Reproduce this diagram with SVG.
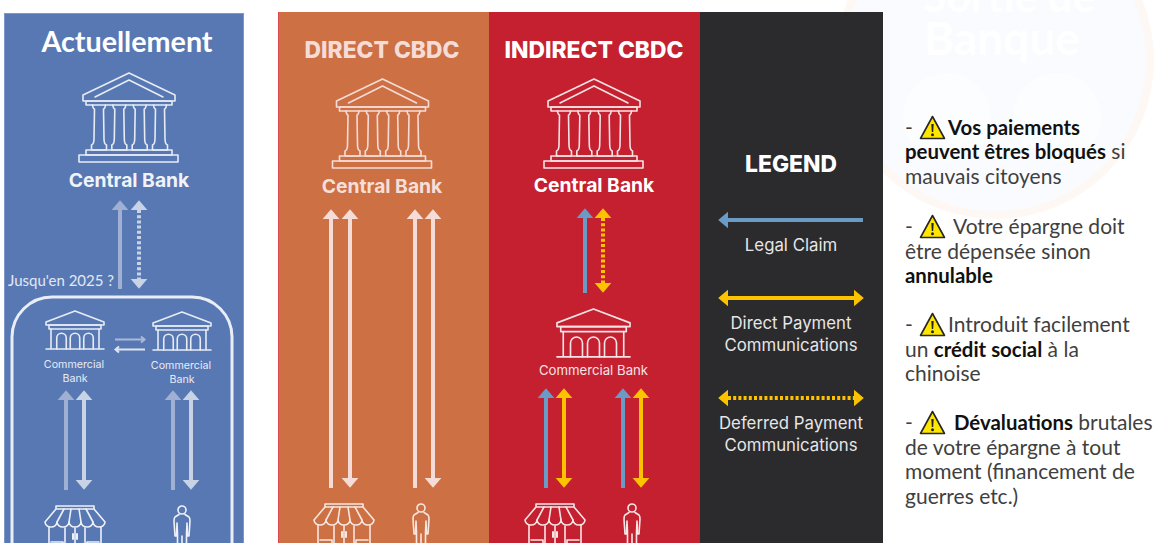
<svg xmlns="http://www.w3.org/2000/svg" xmlns:xlink="http://www.w3.org/1999/xlink" width="1156" height="543" viewBox="0 0 1156 543">
<style>
.ico{fill:none;stroke-width:1.6;stroke-linejoin:round;stroke-linecap:round}
.lab{font-family:Inter,"Liberation Sans",sans-serif;text-anchor:middle}
.b{font-weight:700}
.h{font-weight:800}
.cal{font-family:Lato,"Liberation Sans",sans-serif;font-size:21px;fill:#404040}
.cal tspan.s{font-weight:700;fill:#111;font-size:20.400px}
.ln{fill:none;stroke-width:4}
.dot{stroke-dasharray:3 2.2}
.leg{font-size:16.800px;fill:#e6e6e6}
</style>
<defs>
<marker id="hPale" viewBox="0 -9 10 18" refX="0.2" refY="0" markerWidth="10" markerHeight="18" markerUnits="userSpaceOnUse" orient="auto-start-reverse"><path d="M0,-8.5L10,0L0,8.5Z" fill="#9fb0d2"/></marker>
<marker id="hLite" viewBox="0 -9 10 18" refX="0.2" refY="0" markerWidth="10" markerHeight="18" markerUnits="userSpaceOnUse" orient="auto-start-reverse"><path d="M0,-8.5L10,0L0,8.5Z" fill="#c9d3e6"/></marker>
<marker id="hPeach" viewBox="0 -9 10 18" refX="0.2" refY="0" markerWidth="10" markerHeight="18" markerUnits="userSpaceOnUse" orient="auto-start-reverse"><path d="M0,-8.5L10,0L0,8.5Z" fill="#f5dcd6"/></marker>
<marker id="hBlue" viewBox="0 -9 10 18" refX="0.2" refY="0" markerWidth="10" markerHeight="18" markerUnits="userSpaceOnUse" orient="auto-start-reverse"><path d="M0,-8.5L10,0L0,8.5Z" fill="#6a9bc6"/></marker>
<marker id="hYel" viewBox="0 -9 10 18" refX="0.2" refY="0" markerWidth="10" markerHeight="18" markerUnits="userSpaceOnUse" orient="auto-start-reverse"><path d="M0,-8.5L10,0L0,8.5Z" fill="#fdc300"/></marker>
<g id="central">
<path d="M0,0L46,22V28H-46V22Z"/><path d="M-34,24L0,7L34,24"/><rect x="-43" y="28" width="86" height="4"/>
<g id="col"><path d="M-36.500,32Q-36,36 -34.500,36L-35,66Q-35,71 -37.500,72V77H-22.500V72Q-25,71 -25,66L-25.500,36Q-24,36 -23.500,32"/></g>
<use xlink:href="#col" x="20.300"/><use xlink:href="#col" x="40.700"/><use xlink:href="#col" x="61"/>
<rect x="-43" y="77" width="86" height="5"/><rect x="-50" y="82" width="99" height="7"/>
</g>
<g id="commercial">
<path d="M0,0L29,11V14H-29V11Z"/><path d="M-26,14H26V18H-26Z"/><path d="M-24,18V38M24,18V38M-29,38H29"/>
<path d="M-18.250,38V27a4.750,4.750 0 0 1 9.500,0V38M-4.750,38V27a4.750,4.750 0 0 1 9.500,0V38M8.750,38V27a4.750,4.750 0 0 1 9.500,0V38"/>
</g>
<g id="shop">
<path d="M-19,0H19V3H-19ZM-19,3L-30,16M19,3L30,16M-30,16a6,5 0 0 0 12,0a6,5 0 0 0 12,0a6,5 0 0 0 12,0a6,5 0 0 0 12,0a6,5 0 0 0 12,0"/>
<path d="M-11,3L-18,16M-4,3L-6,16M4,3L6,16M11,3L18,16M-26,21V50M26,21V50M-10,22V50M10,22V50M0,22V50M-24,36H-12V50M24,36H12V50"/>
<path d="M-2,28V33M2,28V33" stroke-width="2"/>
</g>
<g id="person">
<circle cx="0" cy="4" r="4"/>
<path d="M-3,8.500L-7,11Q-8,12 -8,15L-7,30H-5.500L-5,17M3,8.500L7,11Q8,12 8,15L7,30H5.500L5,17M-5,17L-4.500,28V50M5,17L4.500,28V50M0,30V50"/>
</g>
<g id="warn">
<path d="M12.500,1.500L24.500,23.500H0.500Z" fill="#ffe600" stroke="#262626" stroke-width="1.600" stroke-linejoin="round"/>
<path d="M11.300,9H13.700L13.200,17H11.800Z" fill="#222"/><circle cx="12.500" cy="19.800" r="1.500" fill="#222"/>
</g>
</defs>

<rect width="1156" height="543" fill="#fff"/>
<g id="watermark">
<circle cx="995" cy="60" r="155" fill="#fafbfe" stroke="#fef8f5" stroke-width="8"/>
<circle cx="947" cy="117" r="44" fill="#fcfdfe"/><circle cx="1057" cy="117" r="44" fill="#fcfdfe"/>
<text x="1009" y="12" text-anchor="middle" font-family="Lato,sans-serif" font-weight="700" font-size="43" fill="#fff">Sortie de</text>
<text x="1002" y="55" text-anchor="middle" font-family="Lato,sans-serif" font-weight="700" font-size="46" fill="#fff">Banque</text>
</g>
<g id="panels">
<rect x="4.500" y="13.500" width="239" height="530" fill="#5878b4" stroke="#7d97c6"/>
<rect x="278" y="12" width="211" height="531" fill="#cd7145"/>
<rect x="278" y="12" width="1" height="531" fill="#dc4a4e"/>
<rect x="489" y="12" width="211" height="531" fill="#c42030"/>
<rect x="700" y="12" width="183" height="531" fill="#2b2a2d"/>
</g>

<g id="connectors">
<g class="ln">
<path d="M120,289V210" stroke="#9fb0d2" marker-end="url(#hPale)"/>
<path class="dot" d="M139,210V279" stroke="#c9d3e6" marker-start="url(#hLite)" marker-end="url(#hLite)"/>
<path d="M66,490V400" stroke="#9fb0d2" marker-end="url(#hPale)"/>
<path d="M84,400V480" stroke="#c9d3e6" marker-start="url(#hLite)" marker-end="url(#hLite)"/>
<path d="M173,490V400" stroke="#9fb0d2" marker-end="url(#hPale)"/>
<path d="M191,400V480" stroke="#c9d3e6" marker-start="url(#hLite)" marker-end="url(#hLite)"/>
<path d="M331,488V219" stroke="#f5dcd6" marker-end="url(#hPeach)"/>
<path d="M350,219V478" stroke="#f5dcd6" marker-start="url(#hPeach)" marker-end="url(#hPeach)"/>
<path d="M415,488V219" stroke="#f5dcd6" marker-end="url(#hPeach)"/>
<path d="M433,219V478" stroke="#f5dcd6" marker-start="url(#hPeach)" marker-end="url(#hPeach)"/>
<path d="M585,293V218" stroke="#6a9bc6" marker-end="url(#hBlue)"/>
<path class="dot" d="M603,218V283" stroke="#fdc300" marker-start="url(#hYel)" marker-end="url(#hYel)"/>
<path d="M546,488V398" stroke="#6a9bc6" marker-end="url(#hBlue)"/>
<path d="M564,398V478" stroke="#fdc300" marker-start="url(#hYel)" marker-end="url(#hYel)"/>
<path d="M623,488V398" stroke="#6a9bc6" marker-end="url(#hBlue)"/>
<path d="M641,398V478" stroke="#fdc300" marker-start="url(#hYel)" marker-end="url(#hYel)"/>
<path d="M863,220H728" stroke="#6a9bc6" marker-end="url(#hBlue)"/>
<path d="M728,298H854" stroke="#fdc300" marker-start="url(#hYel)" marker-end="url(#hYel)"/>
<path class="dot" d="M728,398H854" stroke="#fdc300" marker-start="url(#hYel)" marker-end="url(#hYel)"/>
</g>
<path d="M115,339.500H144M141,336.500L144.500,339.500L141,342.500" fill="none" stroke="#a9b9d7" stroke-width="2"/>
<path d="M145,349.500H116M119,346.500L115.500,349.500L119,352.500" fill="none" stroke="#dfe5f0" stroke-width="2"/>
</g>

<g id="node-actuellement">
<text class="cal b" x="127" y="52" text-anchor="middle" style="font-size:28.700px;fill:#fff">Actuellement</text>
<text x="8" y="286" class="cal" style="font-size:15px;fill:#e2e8f3">Jusqu'en 2025 ?</text>
</g>
<g id="node-central-actuel" class="ico" stroke="#e6ebf4">
<use xlink:href="#central" x="129" y="73"/>
<text class="lab b" x="129" y="187" font-size="19.300" fill="#f0f3f8" stroke="none">Central Bank</text>
</g>
<rect id="node-perimeter" x="12" y="297" width="220" height="320" rx="40" fill="none" stroke="#e9edf5" stroke-width="3"/>
<g id="node-commercial-a" class="ico" stroke="#e6ebf4">
<use xlink:href="#commercial" x="75" y="311"/>
<text class="lab" x="74" y="368" font-size="10.700" fill="#e6ebf4" stroke="none">Commercial</text>
<text class="lab" x="75" y="382" font-size="10.700" fill="#e6ebf4" stroke="none">Bank</text>
</g>
<g id="node-commercial-b" class="ico" stroke="#e6ebf4">
<use xlink:href="#commercial" x="182" y="312"/>
<text class="lab" x="181" y="369" font-size="10.700" fill="#e6ebf4" stroke="none">Commercial</text>
<text class="lab" x="182" y="383" font-size="10.700" fill="#e6ebf4" stroke="none">Bank</text>
</g>
<g id="node-shop-actuel" class="ico" stroke="#eef1f7"><use xlink:href="#shop" x="75" y="506"/></g>
<g id="node-person-actuel" class="ico" stroke="#eef1f7"><use xlink:href="#person" x="182" y="506"/></g>

<g id="node-direct" class="ico" stroke="#f5dcd6">
<text class="lab h" x="382" y="58" font-size="22.800" fill="#f6dcd6" stroke="none">DIRECT CBDC</text>
<use xlink:href="#central" x="382.500" y="79"/>
<text class="lab b" x="382" y="193" font-size="19.300" fill="#f6dfd8" stroke="none">Central Bank</text>
</g>
<g id="node-shop-direct" class="ico" stroke="#f8e6e0"><use xlink:href="#shop" x="344" y="504"/></g>
<g id="node-person-direct" class="ico" stroke="#f8e6e0"><use xlink:href="#person" x="421" y="504"/></g>

<g id="node-indirect" class="ico" stroke="#f5e3e5">
<text class="lab h" x="594" y="58" font-size="22.800" fill="#fff" stroke="none">INDIRECT CBDC</text>
<use xlink:href="#central" x="594" y="79"/>
<text class="lab b" x="594" y="192" font-size="19.300" fill="#fff" stroke="none">Central Bank</text>
</g>
<g id="node-commercial-indirect" class="ico" stroke="#f5e3e5">
<use xlink:href="#commercial" stroke-width="1.300" transform="translate(593.500,309) scale(1.260)"/>
<text class="lab" x="593.500" y="375" font-size="13.200" fill="#f5e3e5" stroke="none">Commercial Bank</text>
</g>
<g id="node-shop-indirect" class="ico" stroke="#f8e6e6"><use xlink:href="#shop" x="555" y="504"/></g>
<g id="node-person-indirect" class="ico" stroke="#f8e6e6"><use xlink:href="#person" x="632" y="504"/></g>

<g id="node-legend">
<text class="lab h" x="791" y="172" font-size="22.800" fill="#fff">LEGEND</text>
<text class="lab leg" x="791" y="251">Legal Claim</text>
<text class="lab leg" x="791" y="329">Direct Payment</text>
<text class="lab leg" x="791" y="351">Communications</text>
<text class="lab leg" x="791" y="429">Deferred Payment</text>
<text class="lab leg" x="791" y="451">Communications</text>
</g>

<g id="node-notes">
<text class="cal" x="905" y="135">-</text><use xlink:href="#warn" x="920" y="115"/>
<text class="cal" x="948" y="135"><tspan class="s">Vos paiements</tspan></text>
<text class="cal" x="905" y="159"><tspan class="s">peuvent êtres bloqués</tspan> si</text>
<text class="cal" x="905" y="184">mauvais citoyens</text>
<text class="cal" x="905" y="234">-</text><use xlink:href="#warn" x="920" y="214"/>
<text class="cal" x="953" y="234">Votre épargne doit</text>
<text class="cal" x="905" y="259">être dépensée sinon</text>
<text class="cal" x="905" y="283"><tspan class="s">annulable</tspan></text>
<text class="cal" x="905" y="332">-</text><use xlink:href="#warn" x="920" y="312"/>
<text class="cal" x="948" y="332">Introduit facilement</text>
<text class="cal" x="905" y="357">un <tspan class="s">crédit social</tspan> à la</text>
<text class="cal" x="905" y="381">chinoise</text>
<text class="cal" x="905" y="430">-</text><use xlink:href="#warn" x="920" y="410"/>
<text class="cal" x="954" y="430"><tspan class="s">Dévaluations</tspan> brutales</text>
<text class="cal" x="905" y="455">de votre épargne à tout</text>
<text class="cal" x="905" y="479">moment (financement de</text>
<text class="cal" x="905" y="504">guerres etc.)</text>
</g>
</svg>
